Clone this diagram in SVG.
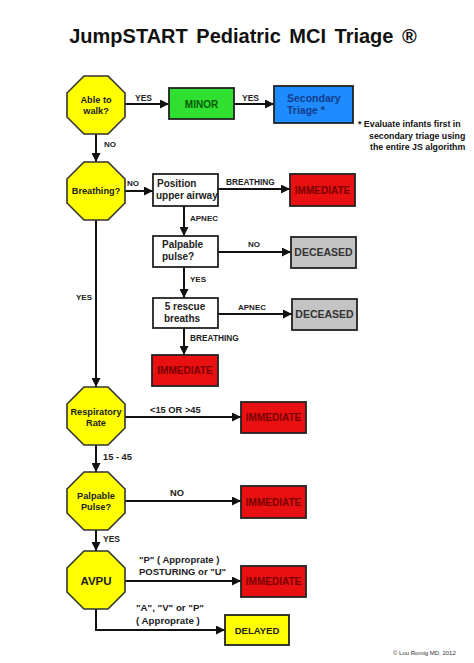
<svg xmlns="http://www.w3.org/2000/svg" xmlns:xlink="http://www.w3.org/1999/xlink" width="474" height="663" viewBox="0 0 474 663">
<style>
text{font-family:"Liberation Sans",Arial,sans-serif;font-weight:bold}
.oct{fill:#ffff00;stroke:#333;stroke-width:1.6}
.box{stroke:#222;stroke-width:1.8}
.white{fill:#fff}
.red{fill:#e81010}
.gray{fill:#c4c4c4}
.green{fill:#30e030}
.blue{fill:#1e8cff}
.yellow{fill:#ffff00}
.ot{font-size:9.2px;fill:#222;text-anchor:middle}
.bt{font-size:10px;fill:#222}
.it{font-size:10px;fill:#7a0000;text-anchor:middle}
.dt{font-size:10.5px;fill:#333;text-anchor:middle}
.lbl{font-size:8px;fill:#222}
.lb2{font-size:9.3px;fill:#222}
.nt{font-size:8.8px;fill:#111}
.conn{fill:none;stroke:#111;stroke-width:2}
</style>
<defs>
<polygon id="oct" class="oct" points="-12,-29 12,-29 29,-12 29,12 12,29 -12,29 -29,12 -29,-12"/>
<marker id="ah" viewBox="0 0 10 10" refX="10" refY="5" markerWidth="9" markerHeight="9" markerUnits="userSpaceOnUse" orient="auto">
<path d="M0,0 L10,5 L0,10 z" fill="#111"/>
</marker>
</defs>
<rect width="474" height="663" fill="#fff"/>
<text x="243" y="43" text-anchor="middle" style="font-size:20px;fill:#111;word-spacing:3px">JumpSTART Pediatric MCI Triage ®</text>

<g id="connectors">
<path class="conn" marker-end="url(#ah)" d="M125,104 H169"/>
<path class="conn" marker-end="url(#ah)" d="M234,104 H274"/>
<path class="conn" marker-end="url(#ah)" d="M96,134 V162"/>
<path class="conn" marker-end="url(#ah)" d="M125,191 H153"/>
<path class="conn" marker-end="url(#ah)" d="M218,189 H290"/>
<path class="conn" marker-end="url(#ah)" d="M184,206 V236"/>
<path class="conn" marker-end="url(#ah)" d="M218,252 H291"/>
<path class="conn" marker-end="url(#ah)" d="M184,267 V298"/>
<path class="conn" marker-end="url(#ah)" d="M218,314 H292"/>
<path class="conn" marker-end="url(#ah)" d="M184,328 V355"/>
<path class="conn" marker-end="url(#ah)" d="M96,220 V387"/>
<path class="conn" marker-end="url(#ah)" d="M125,417 H241"/>
<path class="conn" marker-end="url(#ah)" d="M96,445 V472"/>
<path class="conn" marker-end="url(#ah)" d="M125,501 H241"/>
<path class="conn" marker-end="url(#ah)" d="M96,530 V551"/>
<path class="conn" marker-end="url(#ah)" d="M125,581 H241"/>
<path class="conn" marker-end="url(#ah)" d="M96,609 V630 H225"/>
<text class="lbl" x="135" y="101" style="font-size:8.5px">YES</text>
<text class="lbl" x="242" y="101" style="font-size:8.5px">YES</text>
<text class="lbl" x="104" y="147">NO</text>
<text class="lbl" x="127" y="186">NO</text>
<text class="lbl" x="226" y="185" style="font-size:8.3px">BREATHING</text>
<text class="lbl" x="190" y="221">APNEC</text>
<text class="lbl" x="248" y="247">NO</text>
<text class="lbl" x="190" y="282">YES</text>
<text class="lbl" x="76" y="300">YES</text>
<text class="lbl" x="238" y="310">APNEC</text>
<text class="lbl" x="190" y="341" style="font-size:8.3px">BREATHING</text>
<text class="lb2" x="150" y="413">&lt;15  OR  &gt;45</text>
<text class="lb2" x="103" y="460">15 - 45</text>
<text class="lb2" x="170" y="496">NO</text>
<text class="lbl" x="103" y="542" style="font-size:8.5px">YES</text>
<text class="lb2" x="139" y="563" style="font-size:9.5px">"P" ( Approprate )</text>
<text class="lb2" x="139" y="575" style="font-size:9.5px">POSTURING or "U"</text>
<text class="lb2" x="136" y="611" style="font-size:9.7px">"A", "V" or "P"</text>
<text class="lb2" x="136" y="624" style="font-size:9.7px">( Approprate )</text>
</g>

<g id="able-to-walk">
<use xlink:href="#oct" x="96" y="105"/>
<text class="ot" x="96" y="103">Able to</text>
<text class="ot" x="96" y="114">walk?</text>
</g>
<g id="minor">
<rect class="box green" x="169" y="88" width="65" height="31"/>
<text x="201.5" y="108" text-anchor="middle" style="font-size:10px;fill:#0a5a0a">MINOR</text>
</g>
<g id="secondary-triage">
<rect class="box blue" x="274" y="86" width="79" height="37"/>
<text x="287" y="102" style="font-size:10.5px;fill:#143c8c">Secondary</text>
<text x="287" y="114" style="font-size:10.5px;fill:#143c8c">Triage *</text>
</g>
<g id="note">
<text class="nt" x="358" y="127">*  Evaluate infants first in</text>
<text class="nt" x="369" y="139">secondary triage using</text>
<text class="nt" x="370" y="150">the entire JS algorithm</text>
</g>
<g id="breathing">
<use xlink:href="#oct" x="96" y="191"/>
<text class="ot" x="96" y="194">Breathing?</text>
</g>
<g id="position-airway">
<rect class="box white" x="153" y="174" width="65" height="32"/>
<text class="bt" x="157" y="187">Position</text>
<text class="bt" x="156" y="199">upper airway</text>
</g>
<g id="immediate-1">
<rect class="box red" x="290" y="174" width="65" height="32"/>
<text class="it" x="322.5" y="193.5">IMMEDIATE</text>
</g>
<g id="palpable-pulse-box">
<rect class="box white" x="153" y="236" width="65" height="31"/>
<text class="bt" x="162" y="248">Palpable</text>
<text class="bt" x="162" y="260">pulse?</text>
</g>
<g id="deceased-1">
<rect class="box gray" x="291" y="237" width="65" height="31"/>
<text class="dt" x="323.5" y="256">DECEASED</text>
</g>
<g id="rescue-breaths">
<rect class="box white" x="153" y="298" width="65" height="30"/>
<text class="bt" x="185" y="310" text-anchor="middle">5  rescue</text>
<text class="bt" x="164" y="322">breaths</text>
</g>
<g id="deceased-2">
<rect class="box gray" x="292" y="299" width="65" height="31"/>
<text class="dt" x="324.5" y="318">DECEASED</text>
</g>
<g id="immediate-2">
<rect class="box red" x="152" y="355" width="66" height="31"/>
<text class="it" x="185" y="374">IMMEDIATE</text>
</g>
<g id="respiratory-rate">
<use xlink:href="#oct" x="96" y="416"/>
<text class="ot" x="96" y="415">Respiratory</text>
<text class="ot" x="96" y="426">Rate</text>
</g>
<g id="immediate-3">
<rect class="box red" x="241" y="402" width="65" height="31"/>
<text class="it" x="273.5" y="421">IMMEDIATE</text>
</g>
<g id="palpable-pulse">
<use xlink:href="#oct" x="96" y="501"/>
<text class="ot" x="96" y="499">Palpable</text>
<text class="ot" x="96" y="510">Pulse?</text>
</g>
<g id="immediate-4">
<rect class="box red" x="241" y="486" width="65" height="32"/>
<text class="it" x="273.5" y="505.5">IMMEDIATE</text>
</g>
<g id="avpu">
<use xlink:href="#oct" x="96" y="580"/>
<text x="96" y="585" text-anchor="middle" style="font-size:11.5px;fill:#222">AVPU</text>
</g>
<g id="immediate-5">
<rect class="box red" x="241" y="566" width="65" height="31"/>
<text class="it" x="273.5" y="585">IMMEDIATE</text>
</g>
<g id="delayed">
<rect class="box yellow" x="225" y="615" width="64" height="30"/>
<text x="257" y="634" text-anchor="middle" style="font-size:9.5px;fill:#222">DELAYED</text>
</g>
<text x="393" y="655" style="font-size:6px;font-weight:normal;fill:#333">© Lou Romig MD, 2012</text>
</svg>
